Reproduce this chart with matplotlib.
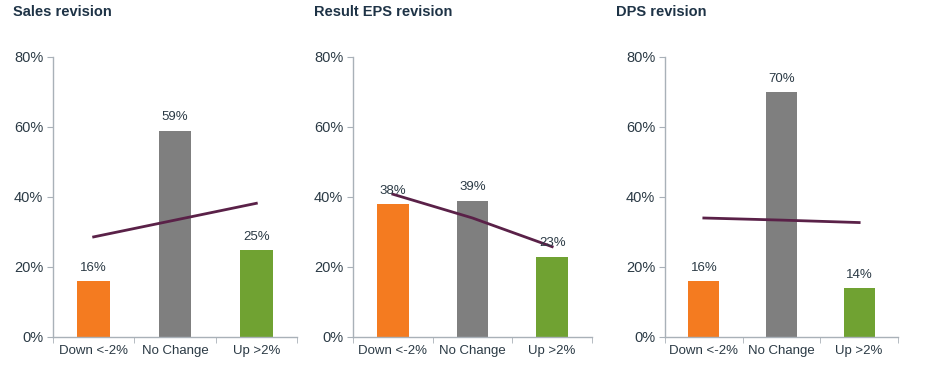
import numpy as np
import matplotlib.pyplot as plt

plt.rcParams['font.family'] = ['Liberation Sans', 'DejaVu Sans']

categories = ['Down <-2%', 'No Change', 'Up >2%']
titles = ['Sales revision', 'Result EPS revision', 'DPS revision']
bar_values = [[16, 59, 25], [38, 39, 23], [16, 70, 14]]
line_values = [[28.6, 33.4, 38.2], [40.8, 34.0, 25.8], [34.0, 33.4, 32.7]]

bar_colors = ['#F47B20', '#7F7F7F', '#70A232']
line_color = '#5A2148'
axis_color = '#A9B1B8'
text_color = '#2B3A45'
title_color = '#1E3346'

W, H = 937, 383
fig = plt.figure(figsize=(W / 100, H / 100), dpi=100)

# axes boxes in pixels: left, right
ax_px = [(53, 297), (353, 592), (665, 898)]
title_x = [13, 314, 616]
top, bottom = 57, 337

for i in range(3):
    l, r = ax_px[i]
    ax = fig.add_axes([l / W, 1 - bottom / H, (r - l) / W, (bottom - top) / H])
    x = np.arange(3)
    ax.bar(x, bar_values[i], width=0.4, color=bar_colors, zorder=2)
    ax.plot(x, line_values[i], color=line_color, lw=2, zorder=3)
    for xi, v in zip(x, bar_values[i]):
        ax.text(xi, v + 2, '%d%%' % v, ha='center', va='bottom',
                fontsize=9.5, color=text_color, zorder=4)
    ax.set_xlim(-0.5, 2.5)
    ax.set_ylim(0, 80)
    ax.set_yticks([0, 20, 40, 60, 80])
    ax.set_yticklabels(['%d%%' % t for t in [0, 20, 40, 60, 80]])
    ax.set_xticks(x)
    ax.set_xticklabels(categories)
    ax.set_xticks([-0.5, 0.5, 1.5, 2.5], minor=True)
    ax.tick_params(axis='x', which='major', length=0, pad=6,
                   labelsize=9.5, labelcolor=text_color)
    ax.tick_params(axis='x', which='minor', length=4, color=axis_color)
    ax.tick_params(axis='y', length=4, color=axis_color, pad=3,
                   labelsize=10.5, labelcolor=text_color)
    for s in ['top', 'right']:
        ax.spines[s].set_visible(False)
    for s in ['left', 'bottom']:
        ax.spines[s].set_color(axis_color)
        ax.spines[s].set_linewidth(1)
    fig.text(title_x[i] / W, 1 - 12 / H, titles[i], fontsize=10.5,
             fontweight='bold', color=title_color, ha='left', va='center')

fig.savefig('out.png', dpi=100)
